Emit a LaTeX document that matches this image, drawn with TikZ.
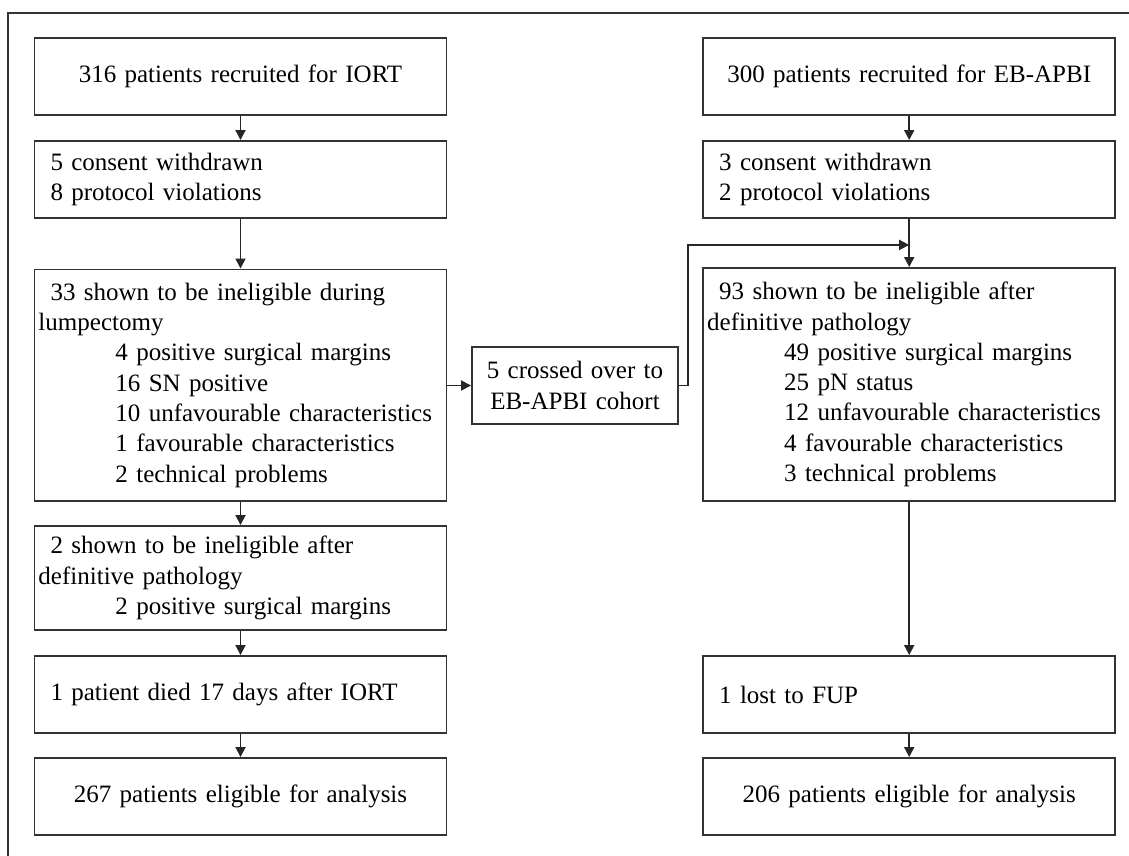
\documentclass[tikz,border=0pt]{standalone}
\usepackage{fontspec}
\setmainfont{Liberation Serif}
\usetikzlibrary{arrows.meta}

\newcommand{\indfirst}{\hspace*{6pt}}
\newcommand{\indsub}{\hspace*{38.5pt}}

\tikzset{
  box/.style={draw=black!80, line width=0.95pt, rectangle, text width=202pt,
    inner xsep=2pt, inner ysep=0pt, align=left,
    font=\fontsize{12.5}{15.15}\selectfont},
  cbox/.style={box, align=center},
  arr/.style={draw=black!85, line width=0.9pt, -{Triangle[length=5pt,width=5pt]}},
}

\begin{document}
\begin{tikzpicture}[x=1pt,y=-1pt]
    \useasboundingbox (0,0) rectangle (564.5,428);
    \draw[black!80, line width=0.9pt] (564.5,6.5) -- (4,6.5) -- (4,428);

    % IORT cohort
    \node[cbox, minimum height=38.5pt] (L1) at (120.25,38.25) {316 patients recruited for IORT};
    \node[box, minimum height=38.5pt] (L2) at (120.25,89.75)
        {\indfirst 5 consent withdrawn\\\indfirst 8 protocol violations};
    \node[box, minimum height=115.75pt] (L3) at (120.25,192.6)
        {\indfirst 33 shown to be ineligible during\\lumpectomy\\
         \indsub 4 positive surgical margins\\
         \indsub 16 SN positive\\
         \indsub 10 unfavourable characteristics\\
         \indsub 1 favourable characteristics\\
         \indsub 2 technical problems};
    \node[box, minimum height=52pt] (L4) at (120.25,289)
        {\indfirst 2 shown to be ineligible after\\definitive pathology\\
         \indsub 2 positive surgical margins};
    \node[box, minimum height=38.5pt] (L5) at (120.25,347.25)
        {\indfirst 1 patient died 17 days after IORT};
    \node[cbox, minimum height=38.5pt] (L6) at (120.25,398.25) {267 patients eligible for analysis};

    % crossover
    \node[cbox, text width=99pt, minimum height=38.5pt] (C) at (287.5,192.75)
        {5 crossed over to\\EB-APBI cohort};

    % EB-APBI cohort
    \node[cbox, minimum height=38.5pt] (R1) at (454.6,38.25) {300 patients recruited for EB-APBI};
    \node[box, minimum height=38.5pt] (R2) at (454.6,89.75)
        {\indfirst 3 consent withdrawn\\\indfirst 2 protocol violations};
    \node[box, minimum height=116.5pt] (R3) at (454.6,192.25)
        {\indfirst 93 shown to be ineligible after\\definitive pathology\\
         \indsub 49 positive surgical margins\\
         \indsub 25 pN status\\
         \indsub 12 unfavourable characteristics\\
         \indsub 4 favourable characteristics\\
         \indsub 3 technical problems};
    \node[box, minimum height=38.5pt] (R4) at (454.6,347.25)
        {\indfirst 1 lost to FUP};
    \node[cbox, minimum height=38.5pt] (R5) at (454.6,398.25) {206 patients eligible for analysis};

    \path (R2.south) ++(0,13) coordinate (J);

    \draw[arr] (L1) -- (L2);
    \draw[arr] (L2) -- (L3);
    \draw[arr] (L3) -- (L4);
    \draw[arr] (L4) -- (L5);
    \draw[arr] (L5) -- (L6);
    \draw[arr] (L3.east |- C.west) -- (C.west);
    \draw[arr] (C.east) -- ++(4.5,0) |- (J);
    \draw[arr] (R1) -- (R2);
    \draw[arr] (R2) -- (R3);
    \draw[arr] (R3) -- (R4);
    \draw[arr] (R4) -- (R5);
\end{tikzpicture}
\end{document}
